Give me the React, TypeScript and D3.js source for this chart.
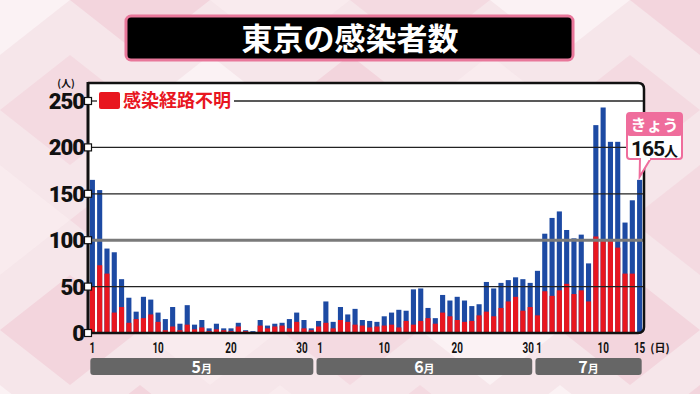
import { useEffect, useRef } from "react";
import * as d3 from "d3";

// 東京の新規感染者数 (5/1〜7/15)
const months = ["5", "6", "7"];
const mayTotals = [165, 154, 91, 87, 58, 38, 23, 39, 36, 22, 15, 28, 10, 30, 9, 14, 5, 10, 5, 5, 11, 3, 2, 14, 8, 10, 11, 15, 22, 14, 5];
const mayUnknown = [50, 73, 64, 22, 28, 11, 15, 16, 20, 12, 3, 7, 3, 9, 4, 6, 2, 4, 3, 2, 7, 2, 1, 8, 5, 7, 8, 5, 12, 5, 3];
const juneTotals = [13, 34, 12, 28, 20, 26, 14, 13, 12, 18, 22, 25, 24, 47, 48, 27, 16, 41, 35, 39, 35, 29, 31, 55, 48, 54, 57, 60, 58, 54];
const juneUnknown = [7, 11, 5, 14, 12, 9, 8, 6, 7, 8, 9, 6, 13, 9, 13, 16, 10, 22, 18, 14, 12, 13, 19, 23, 18, 27, 34, 39, 24, 28];
const julyTotals = [67, 107, 124, 131, 111, 102, 106, 75, 224, 243, 206, 206, 119, 143, 165];
const julyUnknown = [19, 45, 40, 46, 53, 42, 46, 34, 104, 101, 101, 92, 64, 64, 0];
const dayTicks = [
  [1, 10, 20, 30],
  [1, 10, 20, 30],
  [1, 10, 15],
];
const yTicks = [0, 50, 100, 150, 200, 250];
const todayLabel = "きょう";
const todayValue = "165";

const BLUE = "#1d4aa3";
const RED = "#e8161f";
const PINK = "#ef6d9c";
const JP = "'Noto Sans CJK JP', 'Noto Sans', sans-serif";

export default function App() {
  const svgRef = useRef<SVGSVGElement | null>(null);

  useEffect(() => {
    if (!svgRef.current) return;
    const svg = d3.select(svgRef.current);
    svg.selectAll("*").remove();

    const width = 700;
    const height = 394;
    const left = 88;
    const right = 644;
    const top = 83;
    const bottom = 333;

    const monthData = [
      { m: months[0], totals: mayTotals, unknown: mayUnknown, ticks: dayTicks[0] },
      { m: months[1], totals: juneTotals, unknown: juneUnknown, ticks: dayTicks[1] },
      { m: months[2], totals: julyTotals, unknown: julyUnknown, ticks: dayTicks[2] },
    ];
    const rows = monthData.flatMap((md, mi) =>
      md.totals.map((t, i) => ({ key: `${mi}-${i + 1}`, month: mi, day: i + 1, total: t, unknown: md.unknown[i] })),
    );

    // background
    const bg = svg.append("g");
    bg.append("rect").attr("width", width).attr("height", height).attr("fill", "#f6e6ea");
    const diamonds: { cx: number; cy: number; c: string }[] = [];
    const tints = ["#fcf5f7", "#f3d6dd", "#f9ecef", "#f1cfd8"];
    for (let gx = -1; gx <= 6; gx++) {
      for (let gy = -1; gy <= 4; gy++) {
        diamonds.push({ cx: gx * 140 + (gy % 2 ? 70 : 0), cy: gy * 110, c: tints[(gx * 3 + gy * 5 + 40) % 4] });
      }
    }
    bg.selectAll("path.dia")
      .data(diamonds)
      .enter()
      .append("path")
      .attr("class", "dia")
      .attr("d", (d) => `M${d.cx},${d.cy - 55}L${d.cx + 70},${d.cy}L${d.cx},${d.cy + 55}L${d.cx - 70},${d.cy}Z`)
      .attr("fill", (d) => d.c)
      .attr("opacity", 0.75);

    // title
    svg
      .append("rect")
      .attr("x", 126)
      .attr("y", 16)
      .attr("width", 447)
      .attr("height", 44)
      .attr("rx", 5)
      .attr("fill", "#000")
      .attr("stroke", "#e8779a")
      .attr("stroke-width", 3);
    svg
      .append("text")
      .attr("x", 350)
      .attr("y", 50)
      .attr("text-anchor", "middle")
      .attr("fill", "#fff")
      .style("font-family", JP)
      .style("font-weight", "700")
      .style("font-size", "31px")
      .text("東京の感染者数");

    const y = d3.scaleLinear().domain([0, 250]).range([bottom, 101]);
    const x = d3
      .scaleBand<string>()
      .domain(rows.map((r) => r.key))
      .range([left, right])
      .paddingInner(0.3)
      .paddingOuter(0.25);

    // plot frame
    svg
      .append("path")
      .attr("d", `M${left},${top}H${right - 6}Q${right},${top} ${right},${top + 6}V${bottom - 6}Q${right},${bottom} ${right - 6},${bottom}H${left}Z`)
      .attr("fill", "#fff");

    const plot = svg.append("g");
    plot
      .selectAll("rect.total")
      .data(rows)
      .enter()
      .append("rect")
      .attr("class", "total")
      .attr("x", (r) => x(r.key) ?? 0)
      .attr("y", (r) => y(r.total))
      .attr("width", x.bandwidth())
      .attr("height", (r) => bottom - y(r.total))
      .attr("fill", BLUE);
    plot
      .selectAll("rect.unknown")
      .data(rows.filter((r) => r.unknown > 0))
      .enter()
      .append("rect")
      .attr("class", "unknown")
      .attr("x", (r) => x(r.key) ?? 0)
      .attr("y", (r) => y(r.unknown))
      .attr("width", x.bandwidth())
      .attr("height", (r) => bottom - y(r.unknown))
      .attr("fill", RED);

    // grid lines on top of bars
    const grid = svg.append("g");
    yTicks
      .filter((t) => t > 0 && t < 250)
      .forEach((t) => {
        grid
          .append("line")
          .attr("x1", left)
          .attr("x2", right)
          .attr("y1", y(t))
          .attr("y2", y(t))
          .attr("stroke", t === 100 ? "#7a7a7a" : "#222")
          .attr("stroke-width", t === 100 ? 3 : 1.3);
      });
    grid.append("line").attr("x1", left).attr("x2", 97).attr("y1", y(250)).attr("y2", y(250)).attr("stroke", "#222").attr("stroke-width", 1.3);
    grid.append("line").attr("x1", 234).attr("x2", right).attr("y1", y(250)).attr("y2", y(250)).attr("stroke", "#222").attr("stroke-width", 1.3);

    // frame outline
    svg
      .append("path")
      .attr("d", `M${left},${top}H${right - 6}Q${right},${top} ${right},${top + 6}V${bottom - 6}Q${right},${bottom} ${right - 6},${bottom}H${left}`)
      .attr("fill", "none")
      .attr("stroke", "#111")
      .attr("stroke-width", 2.5);
    svg.append("line").attr("x1", left).attr("x2", left).attr("y1", top - 1).attr("y2", bottom + 1).attr("stroke", "#111").attr("stroke-width", 3);

    // y axis ticks
    const yAxis = svg.append("g");
    yAxis
      .selectAll("rect")
      .data(yTicks)
      .enter()
      .append("rect")
      .attr("x", left - 3.5)
      .attr("y", (t) => y(t) - 3.5)
      .attr("width", 7)
      .attr("height", 7)
      .attr("fill", "#fff")
      .attr("stroke", "#111")
      .attr("stroke-width", 1.2);
    yAxis
      .selectAll("text")
      .data(yTicks)
      .enter()
      .append("text")
      .attr("x", 84)
      .attr("y", (t) => y(t) + 8)
      .attr("text-anchor", "end")
      .attr("fill", "#111")
      .style("font-family", "Roboto, sans-serif")
      .style("font-weight", "900")
      .style("font-size", "22px")
      .style("letter-spacing", "-1px")
      .text((t) => String(t));
    svg
      .append("text")
      .attr("x", 66)
      .attr("y", 87)
      .attr("text-anchor", "middle")
      .attr("fill", "#111")
      .style("font-family", JP)
      .style("font-weight", "700")
      .style("font-size", "10px")
      .text("(人)");

    // legend
    svg.append("rect").attr("x", 99).attr("y", 92).attr("width", 21).attr("height", 17).attr("rx", 2).attr("fill", RED);
    svg
      .append("text")
      .attr("x", 123)
      .attr("y", 107)
      .attr("fill", RED)
      .style("font-family", JP)
      .style("font-weight", "700")
      .style("font-size", "18px")
      .text("感染経路不明");

    // x tick labels ("30" and "1" sit tight together at month joins)
    const xLabels = svg.append("g");
    rows
      .filter((r) => monthData[r.month].ticks.includes(r.day))
      .forEach((r) => {
        const nudge = r.day === 30 ? -2 : r.day === 1 && r.month > 0 ? 1.5 : 0;
        const cx = (x(r.key) ?? 0) + x.bandwidth() / 2 + nudge;
        xLabels
          .append("text")
          .attr("transform", `translate(${cx},353) scale(0.66,1)`)
          .attr("text-anchor", "middle")
          .attr("fill", "#111")
          .style("font-family", "Roboto, sans-serif")
          .style("font-weight", "700")
          .style("font-size", "15px")
          .text(String(r.day));
      });
    xLabels
      .append("text")
      .attr("x", 660)
      .attr("y", 352)
      .attr("text-anchor", "middle")
      .attr("fill", "#111")
      .style("font-family", JP)
      .style("font-weight", "700")
      .style("font-size", "11px")
      .text("(日)");

    // month bars
    const monthG = svg.append("g");
    monthData.forEach((md, mi) => {
      const first = x(`${mi}-1`) ?? 0;
      const last = (x(`${mi}-${md.totals.length}`) ?? 0) + x.bandwidth();
      const mx0 = first + 0.5;
      const mx1 = last - 0.5;
      monthG
        .append("rect")
        .attr("x", mx0)
        .attr("y", 358)
        .attr("width", mx1 - mx0)
        .attr("height", 17)
        .attr("rx", 3)
        .attr("fill", "#666");
      const t = monthG
        .append("text")
        .attr("x", (mx0 + mx1) / 2)
        .attr("y", 372.5)
        .attr("text-anchor", "middle")
        .attr("fill", "#fff")
        .style("font-family", JP)
        .style("font-weight", "700");
      t.append("tspan").style("font-size", "16px").text(md.m);
      t.append("tspan").style("font-size", "11px").text("月");
    });

    // today callout
    const last = rows[rows.length - 1];
    const tipX = (x(last.key) ?? 0) + x.bandwidth() / 2;
    const tipY = y(last.total) - 3;
    const call = svg.append("g");
    call
      .append("path")
      .attr("d", `M${640},158L${tipX},${tipY}L${651},158Z`)
      .attr("fill", "#fff")
      .attr("stroke", PINK)
      .attr("stroke-width", 2);
    call
      .append("rect")
      .attr("x", 627)
      .attr("y", 113)
      .attr("width", 55)
      .attr("height", 46)
      .attr("rx", 3)
      .attr("fill", "#fff")
      .attr("stroke", PINK)
      .attr("stroke-width", 2);
    call.append("rect").attr("x", 641).attr("y", 157).attr("width", 9).attr("height", 3).attr("fill", "#fff");
    call.append("rect").attr("x", 627).attr("y", 113).attr("width", 55).attr("height", 23).attr("rx", 3).attr("fill", PINK);
    call
      .append("text")
      .attr("x", 654.5)
      .attr("y", 131)
      .attr("text-anchor", "middle")
      .attr("fill", "#fff")
      .style("font-family", JP)
      .style("font-weight", "700")
      .style("font-size", "16px")
      .text(todayLabel);
    const vt = call
      .append("text")
      .attr("x", 654.5)
      .attr("y", 155.5)
      .attr("text-anchor", "middle")
      .attr("fill", "#111")
      .style("font-family", "Roboto, sans-serif")
      .style("font-weight", "700");
    vt.append("tspan").style("font-size", "21px").style("letter-spacing", "-1px").text(todayValue);
    vt.append("tspan").style("font-family", JP).style("font-size", "14px").text("人");
  }, []);

  return (
    <div style={{ position: "fixed", left: 0, top: 0, width: 700, height: 394 }}>
      <svg ref={svgRef} width={700} height={394} style={{ display: "block" }} />
    </div>
  );
}
